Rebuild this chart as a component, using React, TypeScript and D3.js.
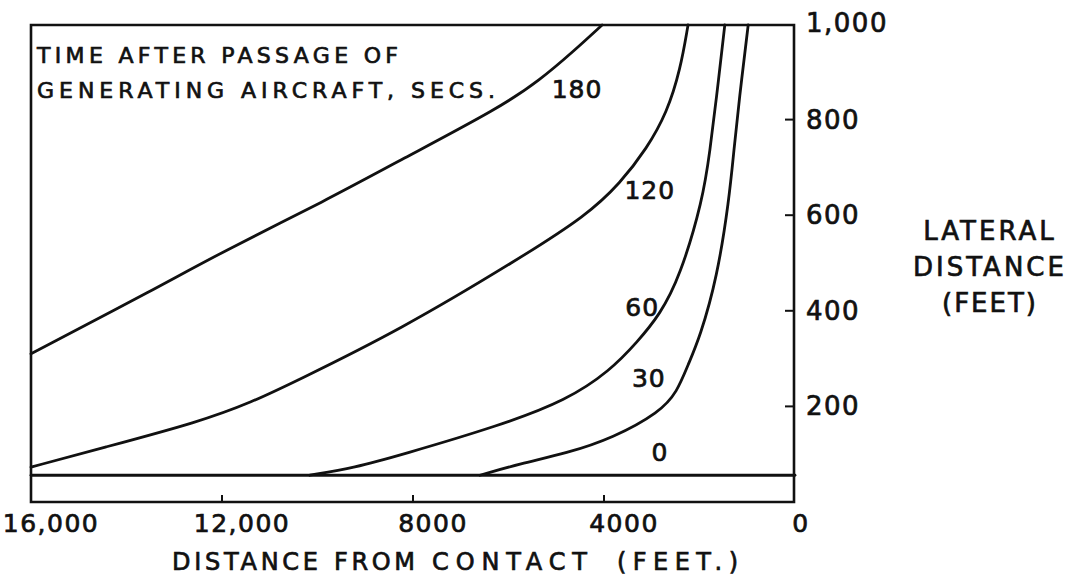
import React from "react";
import * as d3 from "d3";

// distance from contact (ft), lateral distance (ft)
const curve180: [number, number][] = [[16000, 310], [13360, 448], [12040, 521], [9800, 632], [8270, 715], [6180, 825], [5340, 883], [4650, 942], [4040, 998]];
const curve120: [number, number][] = [[16000, 73], [14550, 112], [12460, 168], [11350, 210], [10510, 250], [8270, 360], [5760, 510], [4360, 600], [3660, 667], [3100, 740], [2680, 815], [2400, 905], [2240, 998]];
const curve60: [number, number][] = [[10160, 56], [9220, 72], [8270, 98], [6180, 160], [4780, 213], [3870, 275], [3300, 335], [2830, 392], [2410, 471], [1930, 632], [1780, 736], [1650, 841], [1470, 998]];
const curve30: [number, number][] = [[6600, 56], [5760, 80], [4780, 102], [3810, 134], [2830, 188], [2470, 230], [2240, 287], [1990, 345], [1630, 470], [1380, 632], [1280, 736], [1170, 841], [980, 998]];
const curve0: [number, number][] = [[16000, 56], [0, 56]];

const curves = [curve180, curve120, curve60, curve30, curve0];
const curveLabels = ["180", "120", "60", "30", "0"];
const curveLabelAt: [number, number][] = [[4565, 864], [3040, 653], [3200, 408], [3060, 259], [2830, 105]];

const xTicks = [16000, 12000, 8000, 4000, 0];
const xTickLabels = ["16,000", "12,000", "8000", "4000", "0"];
const yTicks = [200, 400, 600, 800, 1000];
const yTickLabels = ["200", "400", "600", "800", "1,000"];

const titleLines = ["TIME AFTER PASSAGE OF", "GENERATING AIRCRAFT, SECS."];
const xTitleWords = ["DISTANCE", "FROM", "CONTACT", "(FEET.)"];
const yTitleLines = ["LATERAL", "DISTANCE", "(FEET)"];

const FONT = "'DejaVu Sans', sans-serif";
const INK = "#111";

export default function App() {
  const x = d3.scaleLinear().domain([16000, 0]).range([31, 795]);
  const y = d3.scaleLinear().domain([0, 1000]).range([502, 24]);
  const line = d3
    .line<[number, number]>()
    .x((d) => x(d[0]))
    .y((d) => y(d[1]))
    .curve(d3.curveBasis);

  const x0 = x(16000), x1 = x(0), yb = y(0), yt = y(1000) + 1;

  const xTitleStart = [172, 334, 432, 617];
  const xTitleLen = [146, 81, 155, 121];

  const textProps = { fontFamily: FONT, fill: INK, stroke: INK, strokeWidth: 0.7 };

  return (
    <svg
      width={1075}
      height={582}
      style={{ position: "absolute", left: 0, top: 0, display: "block", background: "#fff" }}
    >
      <rect x={0} y={0} width={1075} height={582} fill="#fff" />
      <path
        d={`M${x0},${yt} L${x1 - 1},${yt} L${x1 - 1},${yb} L${x0},${yb} Z`}
        fill="none"
        stroke={INK}
        strokeWidth={2.6}
      />
      {curves.map((c, i) => (
        <path key={i} d={line(c) || ""} fill="none" stroke={INK} strokeWidth={2.8} strokeLinecap="round" />
      ))}
      {xTicks.slice(1, 4).map((t) => (
        <line key={t} x1={x(t)} x2={x(t)} y1={yb} y2={yb - 7} stroke={INK} strokeWidth={2} />
      ))}
      {yTicks.slice(0, 4).map((t) => (
        <line key={t} x1={x1 - 1} x2={x1 - 10} y1={y(t)} y2={y(t)} stroke={INK} strokeWidth={2} />
      ))}
      {xTicks.map((t, i) => (
        <text key={t} x={x(t) + (t === 0 ? 6 : 20)} y={532} textAnchor="middle" fontSize={25} letterSpacing={1.5} {...textProps}>
          {xTickLabels[i]}
        </text>
      ))}
      {yTicks.map((t, i) => (
        <text key={t} x={806} y={y(t) + (t === 1000 ? 8 : 9)} fontSize={26} letterSpacing={1.5} {...textProps}>
          {yTickLabels[i]}
        </text>
      ))}
      {curveLabels.map((s, i) => (
        <text
          key={s}
          x={x(curveLabelAt[i][0])}
          y={y(curveLabelAt[i][1]) + 9}
          textAnchor="middle"
          fontSize={25}
          letterSpacing={1}
          {...textProps}
        >
          {s}
        </text>
      ))}
      {titleLines.map((s, i) => (
        <text key={s} x={37} y={63 + i * 35} fontSize={22} textLength={i === 0 ? 361 : 458} lengthAdjust="spacing" {...textProps}>
          {s}
        </text>
      ))}
      {xTitleWords.map((w, i) => (
        <text key={w} x={xTitleStart[i]} y={570} fontSize={24} textLength={xTitleLen[i]} lengthAdjust="spacing" {...textProps}>
          {w}
        </text>
      ))}
      {yTitleLines.map((s, i) => (
        <text key={s} x={990} y={240 + i * 36} textAnchor="middle" fontSize={26} letterSpacing={i === 2 ? 2 : 3} {...textProps}>
          {s}
        </text>
      ))}
    </svg>
  );
}
